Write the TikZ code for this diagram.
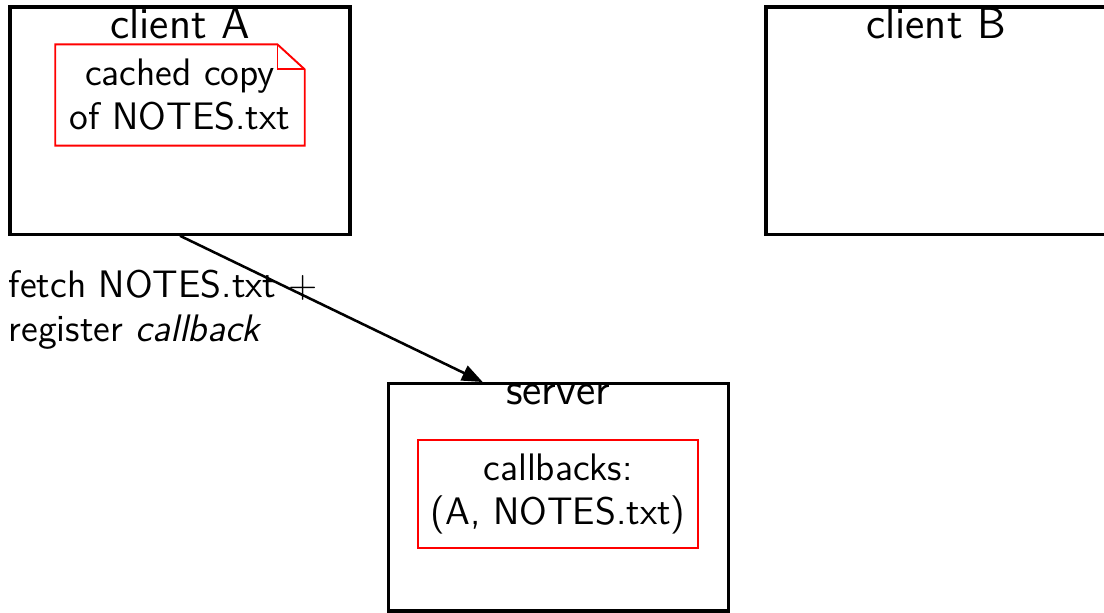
\documentclass[tikz,border=0pt]{standalone}
\usepackage{tikz}
\usetikzlibrary{positioning, arrows.meta}
\renewcommand{\familydefault}{\sfdefault}

\tikzset{
    machine/.style={draw, line width=1pt, minimum width=3.74cm, minimum height=2.5cm},
    title/.style={font=\fontsize{13.8}{16}\selectfont, inner sep=0.5pt},
    filebox/.style={draw=red, semithick, align=center},
}

\begin{document}
\begin{tikzpicture}[font=\fontsize{12}{13.75}\selectfont, >={Triangle[length=6.5pt, width=5pt]}]
    \useasboundingbox (0,0) rectangle (12.144,-6.732);
    % Clients
    \foreach \name/\x in {A/1.98,B/10.296} {
        \node[machine] (client\name) at (\x,-1.326) {};
        \node[title, below=0pt of client\name.north] (client\name-label) {client \name};
    }
    % Cached copy (dog-eared page)
    \node[below=0.43cm of clientA.north, minimum width=2.73cm, minimum height=1.1cm, align=center] (cached) {cached copy\\of NOTES.txt};
    \draw[red, semithick] (cached.south west) |- ([xshift=-0.3cm]cached.north east)
        -- ([yshift=-0.275cm]cached.north east) -- (cached.south east) -- cycle;
    \draw[red, semithick] ([xshift=-0.3cm]cached.north east) |- ([yshift=-0.275cm]cached.north east);
    % Server
    \node[machine] (server) at (6.14,-5.47) {};
    \node[title, below=0pt of server.north] (server-label) {server};
    \node[filebox, below=0.63cm of server.north, minimum width=3.08cm, minimum height=1.18cm] (callbacks) {callbacks:\\(A, NOTES.txt)};
    % Arrows
    \draw[->, thick] (clientA.south) -- ([xshift=-0.83cm]server.north);
    \node[anchor=west, align=left, inner sep=0pt] (fetch) at (0.088,-3.41) {fetch NOTES.txt +\\register \emph{callback}};
\end{tikzpicture}
\end{document}
